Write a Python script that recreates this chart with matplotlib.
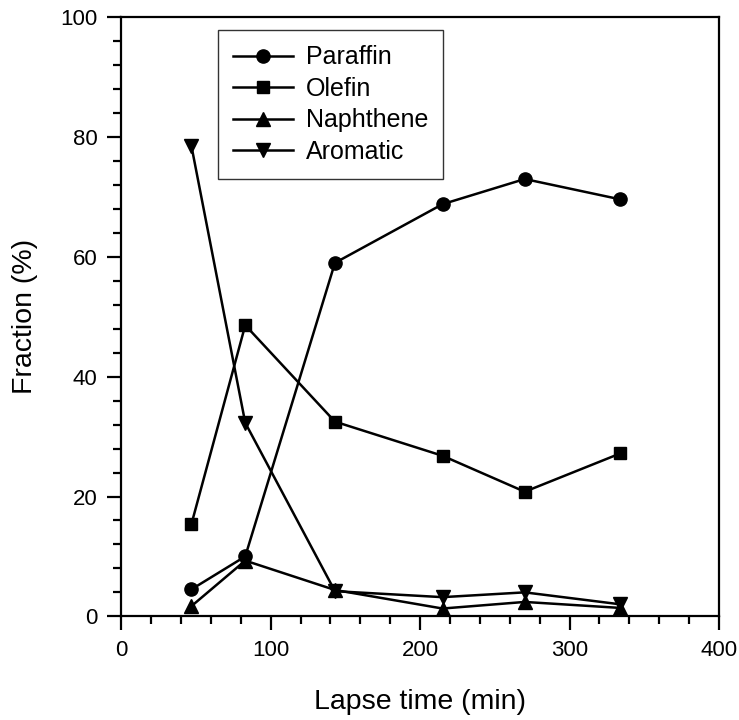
import matplotlib
matplotlib.use("Agg")
import matplotlib.pyplot as plt
from matplotlib.ticker import MultipleLocator

plt.rcParams['font.family'] = ['Liberation Sans', 'DejaVu Sans']

time = [47, 83, 143, 215, 270, 334]
paraffin = [4.5, 10.0, 59.0, 68.8, 73.0, 69.6]
olefin = [15.4, 48.6, 32.5, 26.8, 20.8, 27.2]
naphthene = [1.7, 9.3, 4.4, 1.3, 2.4, 1.4]
aromatic = [78.5, 32.3, 4.2, 3.2, 4.0, 2.0]

fig = plt.figure(figsize=(7.39, 7.20), dpi=100)
ax = fig.add_axes([0.164, 0.144, 0.809, 0.832])

kw = dict(color='black', linewidth=1.8, markersize=9.5)
ax.plot(time, paraffin, marker='o', label='Paraffin', **kw)
ax.plot(time, olefin, marker='s', label='Olefin', **{**kw, 'markersize': 8.5})
ax.plot(time, naphthene, marker='^', label='Naphthene', **kw)
ax.plot(time, aromatic, marker='v', label='Aromatic', **kw)

ax.set_xlim(0, 400)
ax.set_ylim(0, 100)
ax.xaxis.set_major_locator(MultipleLocator(100))
ax.xaxis.set_minor_locator(MultipleLocator(20))
ax.yaxis.set_major_locator(MultipleLocator(20))
ax.yaxis.set_minor_locator(MultipleLocator(4))
ax.tick_params(which='major', direction='out', length=10, width=1.6, labelsize=16, pad=7)
ax.tick_params(which='minor', direction='out', length=6, width=1.6)
for s in ax.spines.values():
    s.set_linewidth(1.6)

ax.set_xlabel('Lapse time (min)', fontsize=20.5, labelpad=20)
ax.set_ylabel('Fraction (%)', fontsize=20.5, labelpad=16)

leg = ax.legend(loc='upper left', bbox_to_anchor=(0.162, 0.978), fontsize=18,
                frameon=True, fancybox=False, edgecolor='black', handlelength=2.4,
                borderpad=0.6, labelspacing=0.3, handletextpad=0.5, borderaxespad=0)
leg.get_frame().set_linewidth(1.0)

fig.savefig('out.png', dpi=100)
